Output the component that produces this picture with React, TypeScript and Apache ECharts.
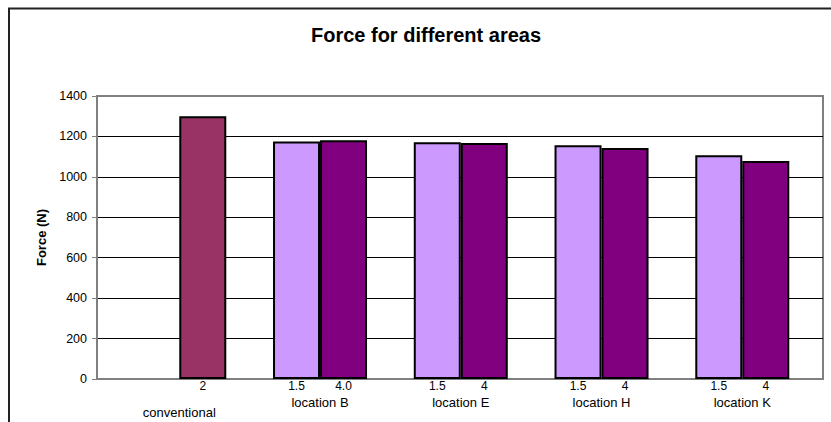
import React, { useEffect, useRef } from "react";
import * as echarts from "echarts";

const groups = ["conventional", "location B", "location E", "location H", "location K"];
const lightValues: (number | null)[] = [null, 1175, 1171, 1156, 1107];
const darkValues: number[] = [1300, 1181, 1168, 1143, 1079];
const lightLabels = ["", "1.5", "1.5", "1.5", "1.5"];
const darkLabels = ["2", "4.0", "4", "4", "4"];
const darkColors = ["#993366", "#800080", "#800080", "#800080", "#800080"];
const yMin = 0;
const yMax = 1400;
const yStep = 200;

const FONT = "'Liberation Sans', Arial, sans-serif";

export default function App() {
  const ref = useRef<HTMLDivElement>(null);
  useEffect(() => {
    document.body.style.margin = "0";
    const chart = echarts.init(ref.current!, null, { renderer: "svg" });
    const option: any = {
      animation: false,
      backgroundColor: "#ffffff",
      textStyle: { fontFamily: FONT },
      graphic: [
        {
          type: "rect",
          shape: { x: 9, y: 8.5, width: 900, height: 500 },
          style: { fill: "none", stroke: "#222", lineWidth: 2 },
          silent: true,
          z: 0,
        },
        {
          type: "text",
          x: 426,
          y: 35,
          style: {
            text: "Force for different areas",
            fontFamily: FONT,
            fontSize: 20,
            fontWeight: "bold",
            fill: "#000",
            textAlign: "center",
            textVerticalAlign: "middle",
          },
        },
      ],
      grid: [
        {
          left: 97, top: 96, right: 8, bottom: 43,
          show: true, borderColor: "#808080", borderWidth: 2,
          outerBoundsMode: "none", containLabel: false,
        },
        {
          left: 108.9, top: 96, width: 703.75, bottom: 43,
          outerBoundsMode: "none", containLabel: false,
        },
      ],
      xAxis: [
        {
          gridIndex: 0,
          type: "category",
          data: groups,
          axisLine: { show: true, lineStyle: { color: "#808080", width: 2 } },
          axisTick: { show: false },
          axisLabel: { show: false },
        },
        {
          gridIndex: 1,
          type: "category",
          data: groups,
          axisLine: { show: false },
          axisTick: { show: false },
          axisLabel: {
            margin: 17,
            color: "#000",
            fontFamily: FONT,
            fontSize: 13,
            formatter: (v: string, i: number) => (i === 0 ? `{low|${v}}` : `{n|${v}}`),
            rich: {
              n: { fontFamily: FONT, fontSize: 13, color: "#000" },
              low: { fontFamily: FONT, fontSize: 13, color: "#000", padding: [10, 0, 0, 0] },
            },
          },
        },
      ],
      yAxis: [
        {
          gridIndex: 0,
          type: "value",
          min: yMin,
          max: yMax,
          interval: yStep,
          name: "Force (N)",
          nameLocation: "middle",
          nameRotate: 90,
          nameGap: 43,
          nameTextStyle: { fontFamily: FONT, fontSize: 13, fontWeight: "bold", color: "#000" },
          axisLine: { show: true, lineStyle: { color: "#808080", width: 2 } },
          axisTick: { show: true, length: 5, lineStyle: { color: "#808080", width: 1 } },
          axisLabel: {
            margin: 10,
            color: "#000",
            fontFamily: FONT,
            fontSize: 12.5,
            formatter: (v: number) => String(v),
          },
          splitLine: {
            show: true,
            showMinLine: false,
            showMaxLine: false,
            lineStyle: { color: "#000", width: 1 },
          },
        },
        {
          gridIndex: 1,
          type: "value",
          min: yMin,
          max: yMax,
          interval: yStep,
          show: false,
          splitLine: { show: false },
        },
      ],
      series: [
        {
          type: "bar",
          xAxisIndex: 1,
          yAxisIndex: 1,
          barWidth: 47,
          barGap: "0%",
          data: lightValues.map((v) => (v === null ? "-" : v)),
          itemStyle: { color: "#CC99FF", borderColor: "#000", borderWidth: 2 },
          label: {
            show: true,
            position: "bottom",
            distance: 1,
            fontFamily: FONT,
            fontSize: 12,
            color: "#000",
            formatter: (p: any) => lightLabels[p.dataIndex],
          },
          z: 3,
        },
        {
          type: "bar",
          xAxisIndex: 1,
          yAxisIndex: 1,
          barWidth: 47,
          barGap: "0%",
          data: darkValues.map((v, i) => ({ value: v, itemStyle: { color: darkColors[i] } })),
          itemStyle: { borderColor: "#000", borderWidth: 2 },
          label: {
            show: true,
            position: "bottom",
            distance: 1,
            fontFamily: FONT,
            fontSize: 12,
            color: "#000",
            formatter: (p: any) => darkLabels[p.dataIndex],
          },
          z: 3,
        },
      ],
    };
    chart.setOption(option);
    return () => chart.dispose();
  }, []);
  return (
    <div
      ref={ref}
      style={{ position: "fixed", left: 0, top: 0, width: 831, height: 422 }}
    />
  );
}
